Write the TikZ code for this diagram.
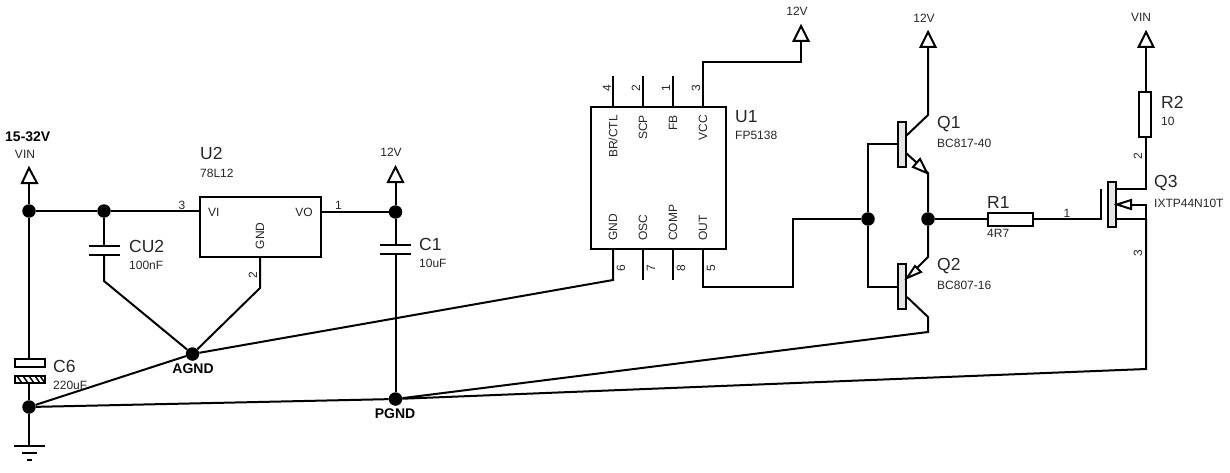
\documentclass[tikz,border=0pt]{standalone}
\usepackage{fontspec}
\setmainfont{Liberation Sans}
\usetikzlibrary{calc}

\tikzset{
  wire/.style={line width=2pt,line join=miter},
  part/.style={draw,line width=2pt,fill=white},
  bar/.style={draw,line width=2pt,fill=black!10},
  junction/.style={circle,fill=black,inner sep=0pt,minimum size=13.5pt},
  small/.style={inner sep=0pt,font=\fontsize{12}{14}\selectfont,text=black!85},
  big/.style={inner sep=0pt,font=\fontsize{17.5}{20}\selectfont,text=black!85},
  net/.style={inner sep=0pt,font=\fontsize{14}{16}\bfseries\selectfont}
}

\begin{document}
\begin{tikzpicture}[x=1pt,y=-1pt]
\useasboundingbox (0,0) rectangle (1230,473);

% Junctions
\node[junction] (vinJ) at (29,211) {};
\node[junction] (cuJ) at (104,211) {};
\node[junction] (outJ) at (395.5,212) {};
\node[junction] (agnd) at (192.5,354) {};
\node[junction] (pgnd) at (395.5,399) {};
\node[junction] (gndJ) at (29,407) {};
\node[junction] (baseJ) at (868,219) {};
\node[junction] (emitJ) at (928,219) {};

% Bodies of the parts
\coordinate (U2a) at (200,197);
\coordinate (U2b) at (321,257);
\coordinate (U1a) at (591,107);
\coordinate (U1b) at (726,249);
\coordinate (R1a) at (988,213);
\coordinate (R1b) at (1033,226);
\coordinate (R2a) at (1139,92);
\coordinate (R2b) at (1151,137);

% Left rail and C6
\draw[wire] (29,183) -- (vinJ) -- (29,359);
\draw[wire] (29,383) -- (gndJ) -- (29,446);
\draw[wire] (vinJ) -- (cuJ) -- (200,211);
\draw[part] (14.5,359) rectangle (45,367);
\draw[part] (14.5,376) rectangle (45,383);
\draw[line width=1.5pt] (17,376) -- (22,383) (23,376) -- (28,383) (29,376) -- (34,383) (35,376) -- (40,383) (40,376) -- (45,383);
\draw[wire] (14,446) -- (45,446);
\draw[wire] (22,453) -- (37,453);
\draw[wire] (27,460) -- (32,460);

% CU2
\draw[wire] (cuJ) -- (104,246);
\draw[wire] (89,246) -- (120,246);
\draw[wire] (89,255) -- (120,255);
\draw[wire] (104,255) -- (104,281) -- (agnd);

% U2
\draw[part] (U2a) rectangle (U2b);
\draw[wire] (260,257) -- (260,288) -- (agnd);
\draw[wire] (321,212) -- (outJ);

% C1
\draw[wire] (395.5,182) -- (outJ) -- (395.5,245);
\draw[wire] (380,245) -- (411,245);
\draw[wire] (380,254) -- (411,254);
\draw[wire] (395.5,254) -- (pgnd);

% Ground returns
\draw[wire] (gndJ) -- (agnd) -- (613,280) -- (613,249);
\draw[wire] (gndJ) -- (pgnd) -- (928,332) -- (928,317) -- (907,297);
\draw[wire] (pgnd) -- (1146,369) -- (1146,219);

% U1
\draw[part] (U1a) rectangle (U1b);
\draw[wire] (613,107) -- (613,76);
\draw[wire] (643,107) -- (643,76);
\draw[wire] (673,107) -- (673,76);
\draw[wire] (703,107) -- (703,62) -- (801,62) -- (801,41);
\draw[wire] (643,249) -- (643,280);
\draw[wire] (673,249) -- (673,280);
\draw[wire] (703,249) -- (703,287) -- (793,287) -- (793,219) -- (baseJ);

% Q1 and Q2
\draw[wire] (898,144) -- (868,144) -- (baseJ) -- (868,287) -- (898,287);
\draw[wire] (906,136) -- (928,115) -- (928,47);
\draw[wire] (906,153) -- (928,173) -- (emitJ) -- (928,257) -- (906,279);
\draw[bar] (898,122) rectangle (906,167);
\draw[bar] (898,264) rectangle (906,309);
\draw[part] (927,173) -- (913,167) -- (920,159) -- cycle;
\draw[part] (907,278) -- (915,266) -- (921,272) -- cycle;

% R1 and Q3
\draw[wire] (emitJ) -- (988,219);
\draw[part] (R1a) rectangle (R1b);
\draw[wire] (1033,219) -- (1101,219);
\draw[wire] (1101,189) -- (1101,220);
\draw[bar] (1108,182) rectangle (1116,227);
\draw[wire] (1116,189) -- (1146,189) -- (1146,137);
\draw[wire] (1116,219) -- (1146,219) -- (1146,205) -- (1131,205);
\draw[part] (1117,204.5) -- (1131,200) -- (1131,209) -- cycle;

% R2
\draw[part] (R2a) rectangle (R2b);
\draw[wire] (1146,92) -- (1146,47);

% Supply arrows
\draw[part] (29,168) -- (37,183) -- (22,183) -- cycle;
\draw[part] (395.5,167) -- (403,182) -- (388,182) -- cycle;
\draw[part] (801,26) -- (808.5,41) -- (793.5,41) -- cycle;
\draw[part] (928,32) -- (935.5,47) -- (920.5,47) -- cycle;
\draw[part] (1146,32) -- (1153.5,47) -- (1138.5,47) -- cycle;

% Net labels
\node[net,anchor=west] (lblRange) at (5,137) {15-32V};
\node[small] (lblVinA) at (25,154) {VIN};
\node[net] (lblAgnd) at (193,369) {AGND};
\node[net] (lblPgnd) at (395,414) {PGND};
\node[small] (lbl12a) at (391,152) {12V};
\node[small] (lbl12b) at (797,11) {12V};
\node[small] (lbl12c) at (924,18) {12V};
\node[small] (lblVinB) at (1141,17) {VIN};

% Part names and values
\node[big,anchor=west] (nameC6) at (53,366) {C6};
\node[small,anchor=west] (valC6) at (53,385) {220uF};
\node[big,anchor=west] (nameCU2) at (129,246) {CU2};
\node[small,anchor=west] (valCU2) at (129,265) {100nF};
\node[big,anchor=west] (nameU2) at (200,153) {U2};
\node[small,anchor=west] (valU2) at (200,173) {78L12};
\node[big,anchor=west] (nameC1) at (419,244) {C1};
\node[small,anchor=west] (valC1) at (419,263) {10uF};
\node[big,anchor=west] (nameU1) at (735,117) {U1};
\node[small,anchor=west] (valU1) at (735,135) {FP5138};
\node[big,anchor=west] (nameQ1) at (937,124) {Q1};
\node[small,anchor=west] (valQ1) at (937,143) {BC817-40};
\node[big,anchor=west] (nameQ2) at (937,266) {Q2};
\node[small,anchor=west] (valQ2) at (937,285) {BC807-16};
\node[big,anchor=west] (nameR1) at (987,202) {R1};
\node[small,anchor=west] (valR1) at (987,233) {4R7};
\node[big,anchor=west] (nameR2) at (1161,102) {R2};
\node[small,anchor=west] (valR2) at (1161,121) {10};
\node[big,anchor=west] (nameQ3) at (1154,183) {Q3};
\node[small,anchor=west] (valQ3) at (1154,203) {IXTP44N10T};

% Pin names
\node[small,anchor=west] (pinVI) at (208,212) {VI};
\node[small] (pinVO) at (304,212) {VO};
\node[small,rotate=90] (pinGND) at (260,236) {GND};
\node[small,rotate=90,anchor=east] (pinBR) at (613,115) {BR/CTL};
\node[small,rotate=90,anchor=east] (pinSCP) at (643,115) {SCP};
\node[small,rotate=90,anchor=east] (pinFB) at (673,115) {FB};
\node[small,rotate=90,anchor=east] (pinVCC) at (703,115) {VCC};
\node[small,rotate=90,anchor=west] (pinG) at (613,241) {GND};
\node[small,rotate=90,anchor=west] (pinOSC) at (643,241) {OSC};
\node[small,rotate=90,anchor=west] (pinCOMP) at (673,241) {COMP};
\node[small,rotate=90,anchor=west] (pinOUT) at (703,241) {OUT};

% Pin numbers
\node[small] (numA) at (182,205) {3};
\node[small,rotate=90] (numB) at (253,275) {2};
\node[small] (numC) at (338.5,205) {1};
\node[small,rotate=90] (numD) at (607,88) {4};
\node[small,rotate=90] (numE) at (636,88) {2};
\node[small,rotate=90] (numF) at (666,88) {1};
\node[small,rotate=90] (numG) at (696,88) {3};
\node[small,rotate=90] (numH) at (621,268) {6};
\node[small,rotate=90] (numI) at (651,268) {7};
\node[small,rotate=90] (numJ) at (681,268) {8};
\node[small,rotate=90] (numK) at (711,268) {5};
\node[small] (numL) at (1067,213) {1};
\node[small,rotate=90] (numM) at (1138,156) {2};
\node[small,rotate=90] (numN) at (1138,253) {3};

\end{tikzpicture}
\end{document}
